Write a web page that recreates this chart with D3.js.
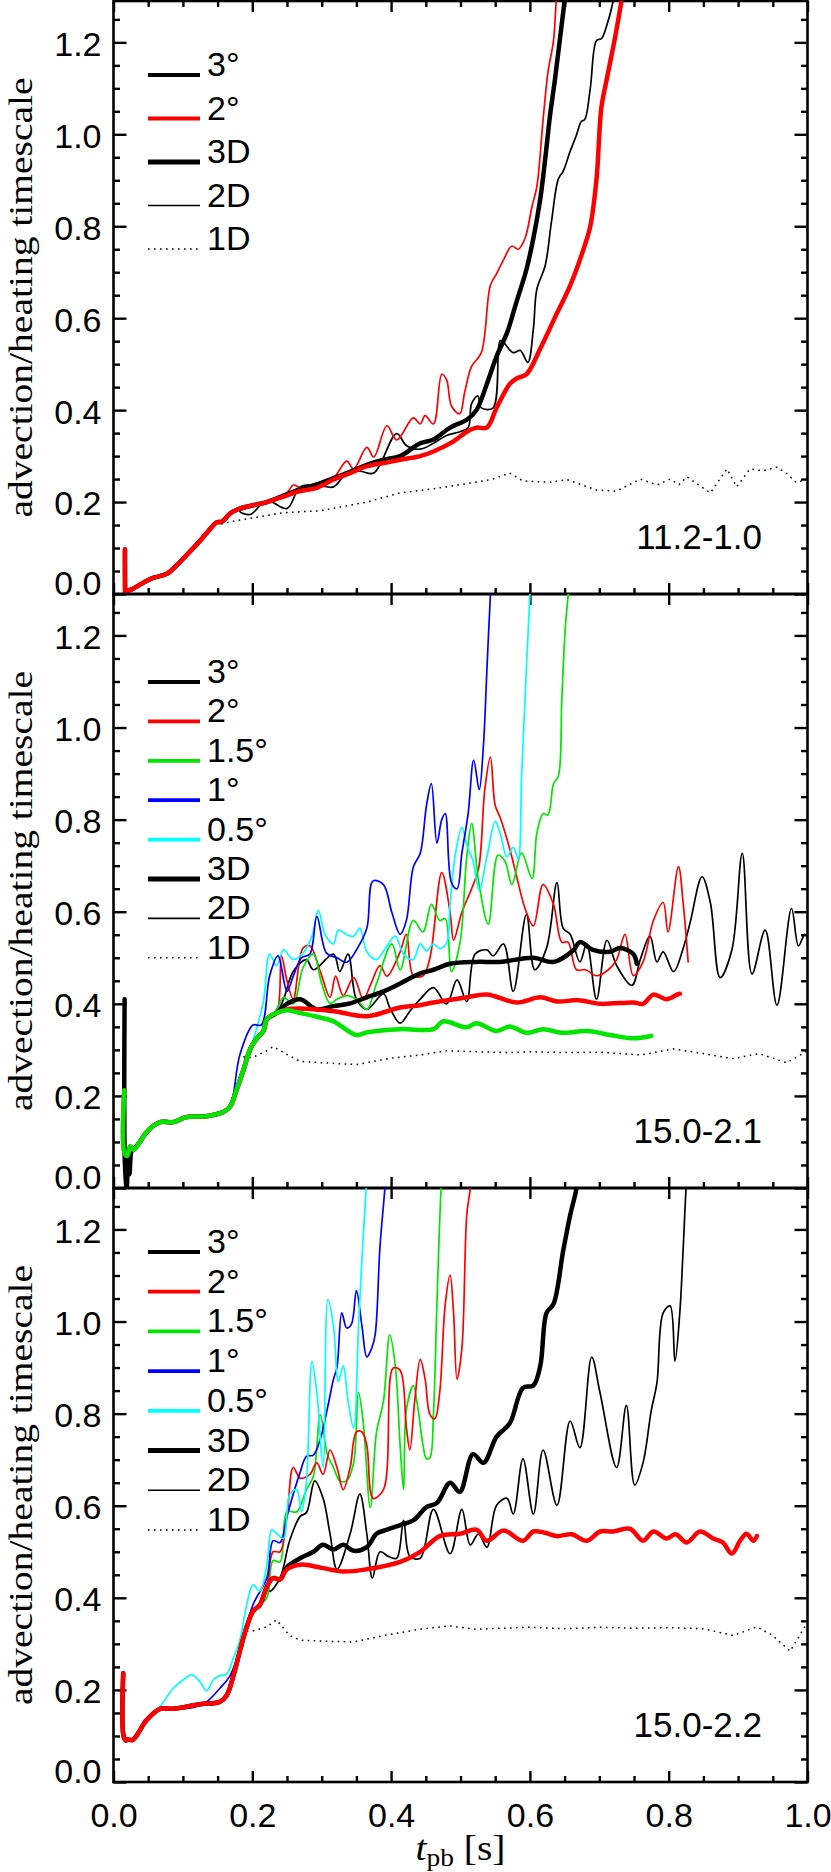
<!DOCTYPE html>
<html><head><meta charset="utf-8">
<script src="https://cdn.jsdelivr.net/npm/d3@7"></script>
<style>body{margin:0;background:#fff}</style>
</head><body>
<svg id="chart" width="831" height="1872"></svg>
<script>
// ---------------- DATA ----------------
const xTickValues = [0, 0.2, 0.4, 0.6, 0.8, 1.0];
const yTickValues = [0, 0.2, 0.4, 0.6, 0.8, 1.0, 1.2];
const panelLabels = ["11.2-1.0", "15.0-2.1", "15.0-2.2"];
const resLabels = {r3: "3°", r2: "2°", r15: "1.5°", r1: "1°", r05: "0.5°"};
const dimLabels = {d3: "3D", d2: "2D", d1: "1D"};
const legend1 = ["r3", "r2", "d3", "d2", "d1"];
const legend23 = ["r3", "r2", "r15", "r1", "r05", "d3", "d2", "d1"];

// Panel 1 (11.2-1.0)
const p1Common = [[0.017,0.005],[0.026,0.01],[0.048,0.029],[0.057,0.035],[0.077,0.044],[0.096,0.07],[0.12,0.108],[0.134,0.132],[0.149,0.156],[0.156,0.157],[0.168,0.175],[0.182,0.186],[0.201,0.193],[0.221,0.2]];
const p1Spike = [[0.0165,0.097],[0.0168,0.0]];
const p1_3D_r2 = [[0.245,0.212],[0.269,0.224],[0.293,0.231],[0.317,0.249],[0.341,0.263],[0.365,0.278],[0.389,0.285],[0.413,0.292],[0.442,0.3],[0.461,0.31],[0.49,0.332],[0.509,0.353],[0.523,0.362],[0.538,0.362],[0.552,0.405],[0.571,0.457],[0.581,0.469],[0.595,0.478],[0.615,0.534],[0.639,0.611],[0.658,0.671],[0.677,0.749],[0.687,0.8],[0.696,0.903],[0.703,1.058],[0.711,1.122],[0.723,1.213],[0.732,1.29],[0.74,1.36]];
const p1_3D_r3 = [[0.245,0.214],[0.269,0.228],[0.293,0.238],[0.317,0.252],[0.341,0.266],[0.365,0.281],[0.389,0.292],[0.413,0.3],[0.442,0.328],[0.461,0.336],[0.485,0.362],[0.509,0.379],[0.523,0.4],[0.538,0.457],[0.552,0.517],[0.567,0.568],[0.581,0.637],[0.595,0.706],[0.605,0.774],[0.615,0.86],[0.622,0.946],[0.629,1.041],[0.636,1.118],[0.643,1.204],[0.65,1.29],[0.655,1.35]];
const p1_2D_r2 = [[0.235,0.21],[0.25,0.22],[0.259,0.237],[0.269,0.232],[0.293,0.242],[0.317,0.253],[0.336,0.289],[0.346,0.272],[0.365,0.319],[0.375,0.298],[0.394,0.366],[0.408,0.335],[0.432,0.383],[0.442,0.37],[0.449,0.388],[0.461,0.37],[0.473,0.478],[0.48,0.466],[0.487,0.409],[0.499,0.392],[0.506,0.439],[0.516,0.495],[0.53,0.525],[0.543,0.671],[0.552,0.697],[0.562,0.727],[0.574,0.757],[0.583,0.75],[0.593,0.774],[0.603,0.843],[0.61,0.886],[0.619,1.032],[0.626,1.135],[0.634,1.204],[0.638,1.29],[0.642,1.35]];
const p1_2D_r3 = [[0.182,0.18],[0.197,0.173],[0.221,0.203],[0.25,0.186],[0.269,0.233],[0.293,0.237],[0.317,0.233],[0.336,0.263],[0.355,0.267],[0.375,0.263],[0.408,0.349],[0.422,0.323],[0.442,0.315],[0.461,0.328],[0.48,0.345],[0.499,0.353],[0.511,0.362],[0.516,0.414],[0.525,0.431],[0.53,0.405],[0.547,0.405],[0.557,0.551],[0.562,0.547],[0.576,0.525],[0.586,0.53],[0.597,0.504],[0.605,0.577],[0.61,0.663],[0.622,0.714],[0.631,0.809],[0.641,0.903],[0.648,0.92],[0.658,0.963],[0.667,0.998],[0.674,1.028],[0.679,1.032],[0.687,1.1],[0.696,1.204],[0.703,1.208],[0.711,1.238],[0.72,1.29],[0.725,1.34]];
const p1_1D = [[0.155,0.152],[0.168,0.157],[0.245,0.177],[0.298,0.181],[0.365,0.2],[0.413,0.22],[0.461,0.229],[0.509,0.24],[0.547,0.25],[0.571,0.263],[0.59,0.246],[0.629,0.243],[0.653,0.249],[0.696,0.226],[0.725,0.224],[0.759,0.25],[0.783,0.237],[0.802,0.25],[0.815,0.238],[0.826,0.255],[0.86,0.22],[0.884,0.272],[0.898,0.233],[0.917,0.272],[0.936,0.268],[0.956,0.276],[0.97,0.262],[0.984,0.242],[1.0,0.25]];

// Panel 2 (15.0-2.1)
const p2Common = [[0.0286,0.083],[0.038,0.1],[0.048,0.122],[0.067,0.143],[0.086,0.143],[0.105,0.154],[0.134,0.156],[0.158,0.165],[0.168,0.177],[0.177,0.212],[0.187,0.255],[0.197,0.302],[0.206,0.324],[0.216,0.341],[0.221,0.367],[0.235,0.38]];
const p2SpikeBlack = [[0.016,0.41],[0.0165,0.05],[0.019,0.0],[0.021,0.06],[0.023,0.03],[0.026,0.08]];
const p2SpikeGreen = [[0.0155,0.212],[0.016,0.075],[0.02,0.07],[0.024,0.09]];
const p2_3D_r3 = [[0.25,0.4],[0.269,0.41],[0.293,0.388],[0.317,0.395],[0.341,0.401],[0.365,0.414],[0.389,0.427],[0.413,0.444],[0.442,0.466],[0.461,0.474],[0.485,0.487],[0.523,0.491],[0.557,0.491],[0.605,0.5],[0.634,0.491],[0.663,0.517],[0.672,0.534],[0.691,0.517],[0.715,0.513],[0.73,0.521],[0.749,0.508],[0.754,0.487]];
const p2_3D_r15 = [[0.25,0.386],[0.269,0.38],[0.293,0.372],[0.317,0.362],[0.35,0.332],[0.365,0.338],[0.413,0.345],[0.461,0.345],[0.475,0.362],[0.509,0.349],[0.523,0.358],[0.552,0.341],[0.571,0.351],[0.595,0.337],[0.619,0.345],[0.646,0.337],[0.682,0.341],[0.72,0.331],[0.749,0.325],[0.775,0.33]];
const p2_3D_r2 = [[0.25,0.388],[0.269,0.39],[0.317,0.384],[0.365,0.373],[0.413,0.392],[0.442,0.397],[0.461,0.403],[0.509,0.414],[0.538,0.42],[0.581,0.403],[0.615,0.414],[0.639,0.405],[0.67,0.408],[0.701,0.4],[0.749,0.403],[0.763,0.4],[0.778,0.42],[0.797,0.41],[0.812,0.42],[0.816,0.422]];
const p2_2D_r3 = [[0.245,0.41],[0.259,0.47],[0.278,0.496],[0.288,0.474],[0.317,0.508],[0.326,0.47],[0.338,0.508],[0.35,0.41],[0.365,0.388],[0.389,0.422],[0.398,0.392],[0.413,0.358],[0.427,0.384],[0.442,0.41],[0.461,0.435],[0.48,0.4],[0.495,0.452],[0.509,0.405],[0.521,0.508],[0.538,0.517],[0.547,0.504],[0.562,0.53],[0.576,0.427],[0.595,0.594],[0.607,0.474],[0.624,0.521],[0.639,0.663],[0.648,0.564],[0.658,0.551],[0.672,0.491],[0.682,0.53],[0.696,0.41],[0.711,0.538],[0.725,0.483],[0.747,0.44],[0.759,0.496],[0.773,0.547],[0.783,0.491],[0.792,0.513],[0.807,0.47],[0.821,0.521],[0.831,0.577],[0.848,0.676],[0.86,0.62],[0.874,0.457],[0.891,0.517],[0.906,0.727],[0.92,0.465],[0.939,0.56],[0.956,0.397],[0.977,0.607],[0.987,0.526],[0.996,0.551],[1.0,0.545]];
const p2_2D_r2 = [[0.242,0.504],[0.25,0.45],[0.259,0.41],[0.273,0.521],[0.283,0.526],[0.298,0.47],[0.312,0.414],[0.32,0.46],[0.331,0.418],[0.346,0.457],[0.36,0.41],[0.37,0.44],[0.384,0.483],[0.394,0.46],[0.413,0.513],[0.422,0.551],[0.432,0.461],[0.446,0.461],[0.456,0.5],[0.473,0.685],[0.485,0.599],[0.49,0.538],[0.502,0.599],[0.516,0.65],[0.526,0.693],[0.535,0.865],[0.543,0.936],[0.55,0.831],[0.557,0.805],[0.571,0.736],[0.581,0.676],[0.593,0.607],[0.605,0.569],[0.619,0.659],[0.634,0.616],[0.646,0.534],[0.655,0.534],[0.667,0.474],[0.68,0.474],[0.696,0.461],[0.713,0.474],[0.725,0.496],[0.737,0.551],[0.749,0.461],[0.763,0.491],[0.778,0.581],[0.792,0.62],[0.799,0.556],[0.814,0.698],[0.821,0.616],[0.828,0.491]];
const p2_2D_r1 = [[0.182,0.289],[0.201,0.354],[0.213,0.354],[0.225,0.461],[0.237,0.504],[0.25,0.427],[0.259,0.46],[0.271,0.5],[0.283,0.508],[0.293,0.59],[0.307,0.51],[0.322,0.5],[0.336,0.49],[0.35,0.517],[0.365,0.564],[0.374,0.667],[0.389,0.659],[0.401,0.599],[0.413,0.551],[0.422,0.581],[0.432,0.697],[0.442,0.727],[0.451,0.831],[0.458,0.878],[0.466,0.749],[0.473,0.8],[0.478,0.813],[0.487,0.663],[0.495,0.65],[0.502,0.727],[0.511,0.813],[0.519,0.929],[0.527,0.865],[0.533,0.96],[0.538,1.123],[0.543,1.286],[0.546,1.35]];
const p2_2D_r05 = [[0.182,0.24],[0.201,0.32],[0.216,0.405],[0.225,0.508],[0.235,0.483],[0.245,0.517],[0.259,0.496],[0.273,0.51],[0.286,0.547],[0.295,0.603],[0.305,0.55],[0.317,0.53],[0.324,0.56],[0.336,0.55],[0.346,0.547],[0.355,0.564],[0.365,0.513],[0.379,0.496],[0.394,0.526],[0.406,0.547],[0.418,0.508],[0.432,0.496],[0.442,0.53],[0.451,0.515],[0.461,0.53],[0.47,0.52],[0.48,0.532],[0.485,0.616],[0.492,0.719],[0.502,0.783],[0.509,0.745],[0.518,0.71],[0.527,0.646],[0.538,0.719],[0.55,0.796],[0.557,0.771],[0.567,0.719],[0.576,0.74],[0.583,0.715],[0.588,0.891],[0.593,1.063],[0.6,1.286],[0.603,1.35]];
const p2_2D_r15 = [[0.185,0.24],[0.201,0.307],[0.221,0.36],[0.235,0.388],[0.245,0.414],[0.259,0.4],[0.273,0.478],[0.288,0.508],[0.3,0.444],[0.312,0.401],[0.322,0.41],[0.336,0.418],[0.35,0.41],[0.365,0.388],[0.379,0.444],[0.401,0.53],[0.413,0.474],[0.432,0.581],[0.446,0.556],[0.458,0.616],[0.47,0.581],[0.478,0.585],[0.487,0.47],[0.499,0.53],[0.509,0.719],[0.516,0.792],[0.526,0.667],[0.54,0.573],[0.554,0.723],[0.564,0.71],[0.574,0.659],[0.588,0.728],[0.603,0.672],[0.61,0.77],[0.619,0.813],[0.626,0.81],[0.634,0.878],[0.641,0.895],[0.646,1.063],[0.651,1.217],[0.655,1.286],[0.658,1.35]];
const p2_1D = [[0.187,0.285],[0.2,0.283],[0.221,0.298],[0.23,0.307],[0.25,0.29],[0.269,0.275],[0.3,0.272],[0.35,0.268],[0.4,0.282],[0.442,0.289],[0.48,0.298],[0.52,0.296],[0.57,0.294],[0.6,0.296],[0.65,0.294],[0.7,0.295],[0.76,0.289],[0.807,0.302],[0.85,0.292],[0.893,0.281],[0.93,0.292],[0.97,0.272],[1.0,0.298]];

// Panel 3 (15.0-2.2)
const p3Common = [[0.02,0.092],[0.028,0.092],[0.048,0.135],[0.067,0.159],[0.086,0.159],[0.125,0.169],[0.153,0.174],[0.163,0.188],[0.173,0.232],[0.182,0.284],[0.192,0.337],[0.201,0.371],[0.211,0.385],[0.221,0.424],[0.23,0.443],[0.24,0.44]];
const p3Spike = [[0.014,0.236],[0.0145,0.1],[0.018,0.09]];
const p3_3D_r2 = [[0.25,0.462],[0.269,0.472],[0.3,0.465],[0.331,0.457],[0.365,0.462],[0.413,0.478],[0.442,0.5],[0.47,0.534],[0.499,0.539],[0.523,0.548],[0.538,0.524],[0.562,0.546],[0.59,0.524],[0.605,0.544],[0.62,0.542],[0.639,0.534],[0.66,0.538],[0.682,0.524],[0.701,0.544],[0.72,0.544],[0.744,0.55],[0.763,0.524],[0.778,0.544],[0.797,0.529],[0.81,0.538],[0.826,0.52],[0.845,0.544],[0.864,0.529],[0.878,0.52],[0.891,0.496],[0.903,0.524],[0.912,0.539],[0.922,0.524],[0.927,0.534]];
const p3_3D_r3 = [[0.25,0.467],[0.269,0.486],[0.288,0.5],[0.302,0.515],[0.317,0.505],[0.331,0.515],[0.346,0.502],[0.365,0.51],[0.379,0.539],[0.394,0.548],[0.413,0.558],[0.432,0.568],[0.451,0.597],[0.466,0.606],[0.485,0.65],[0.499,0.63],[0.518,0.712],[0.533,0.693],[0.552,0.75],[0.571,0.779],[0.59,0.856],[0.605,0.861],[0.615,0.904],[0.624,1.019],[0.634,1.038],[0.648,1.154],[0.658,1.231],[0.667,1.288],[0.672,1.35]];
const p3_2D_r3 = [[0.225,0.414],[0.24,0.443],[0.254,0.525],[0.269,0.577],[0.278,0.585],[0.29,0.654],[0.302,0.616],[0.312,0.539],[0.322,0.462],[0.341,0.539],[0.355,0.625],[0.365,0.539],[0.373,0.443],[0.384,0.5],[0.396,0.49],[0.408,0.486],[0.418,0.568],[0.427,0.49],[0.442,0.486],[0.461,0.592],[0.485,0.496],[0.502,0.592],[0.514,0.515],[0.526,0.539],[0.538,0.51],[0.552,0.601],[0.567,0.616],[0.576,0.582],[0.59,0.702],[0.605,0.582],[0.619,0.721],[0.639,0.601],[0.658,0.784],[0.672,0.726],[0.689,0.923],[0.701,0.846],[0.725,0.683],[0.739,0.818],[0.751,0.645],[0.763,0.693],[0.775,0.808],[0.783,0.866],[0.792,1.019],[0.802,1.034],[0.809,0.914],[0.816,1.019],[0.821,1.163],[0.825,1.288],[0.828,1.35]];
const p3_2D_r2 = [[0.23,0.5],[0.24,0.5],[0.25,0.577],[0.259,0.683],[0.269,0.66],[0.283,0.668],[0.293,0.693],[0.302,0.668],[0.312,0.721],[0.322,0.683],[0.331,0.635],[0.341,0.683],[0.35,0.76],[0.358,0.76],[0.365,0.731],[0.374,0.616],[0.389,0.635],[0.403,0.899],[0.413,0.894],[0.422,0.77],[0.427,0.721],[0.434,0.827],[0.442,0.918],[0.449,0.875],[0.456,0.798],[0.463,0.789],[0.47,0.846],[0.478,1.038],[0.485,1.101],[0.49,1.019],[0.495,0.875],[0.502,0.942],[0.509,1.231],[0.514,1.288],[0.517,1.35]];
const p3_2D_r15 = [[0.221,0.4],[0.23,0.481],[0.24,0.478],[0.25,0.587],[0.264,0.587],[0.278,0.635],[0.288,0.664],[0.298,0.798],[0.308,0.712],[0.317,0.683],[0.326,0.654],[0.336,0.654],[0.346,0.693],[0.353,0.846],[0.36,0.779],[0.37,0.596],[0.379,0.76],[0.389,0.827],[0.398,0.971],[0.406,0.904],[0.413,0.731],[0.418,0.635],[0.422,0.808],[0.432,0.861],[0.439,0.808],[0.446,0.731],[0.451,0.702],[0.456,0.705],[0.461,0.798],[0.466,1.038],[0.472,1.288],[0.475,1.35]];
const p3_2D_r05 = [[0.067,0.164],[0.086,0.203],[0.105,0.227],[0.113,0.233],[0.125,0.217],[0.134,0.198],[0.144,0.222],[0.153,0.231],[0.163,0.235],[0.173,0.27],[0.182,0.308],[0.192,0.385],[0.201,0.428],[0.211,0.415],[0.221,0.472],[0.228,0.548],[0.235,0.54],[0.245,0.529],[0.254,0.625],[0.264,0.635],[0.271,0.587],[0.278,0.654],[0.286,0.913],[0.293,0.846],[0.302,0.683],[0.309,1.048],[0.317,0.99],[0.324,0.87],[0.331,0.904],[0.338,0.827],[0.346,0.769],[0.353,0.99],[0.358,1.135],[0.364,1.288],[0.367,1.35]];
const p3_2D_r1 = [[0.115,0.162],[0.134,0.174],[0.153,0.203],[0.168,0.231],[0.182,0.289],[0.201,0.385],[0.221,0.443],[0.23,0.524],[0.24,0.52],[0.25,0.577],[0.259,0.625],[0.269,0.673],[0.278,0.707],[0.288,0.71],[0.298,0.745],[0.309,0.817],[0.317,0.875],[0.322,0.9],[0.329,1.019],[0.336,0.986],[0.343,0.995],[0.35,1.067],[0.358,0.99],[0.365,0.923],[0.372,0.942],[0.377,0.971],[0.384,1.163],[0.391,1.288],[0.394,1.35]];
const p3_1D = [[0.192,0.328],[0.201,0.328],[0.221,0.337],[0.235,0.352],[0.254,0.318],[0.269,0.308],[0.3,0.306],[0.346,0.304],[0.389,0.318],[0.442,0.332],[0.485,0.339],[0.52,0.332],[0.56,0.334],[0.6,0.336],[0.65,0.333],[0.7,0.336],[0.75,0.334],[0.8,0.335],[0.85,0.333],[0.893,0.318],[0.927,0.337],[0.95,0.318],[0.975,0.284],[1.0,0.347]];

const upTo = (arr, t) => arr.filter(d => d[0] <= t);

// series per panel, in drawing order: [resolution, dimension, points]
const panelSeries = [
  [
    ["r3","d1", p1_1D],
    ["r3","d2", p1Common.concat(p1_2D_r3)],
    ["r2","d2", p1Common.concat(p1_2D_r2)],
    ["r3","d3", p1Spike.concat(p1Common, p1_3D_r3)],
    ["r2","d3", p1Spike.concat(p1Common, p1_3D_r2)]
  ],
  [
    ["r3","d1", p2_1D],
    ["r3","d2", p2SpikeBlack.concat(upTo(p2Common,0.235), p2_2D_r3)],
    ["r2","d2", p2SpikeGreen.concat(upTo(p2Common,0.235), p2_2D_r2)],
    ["r15","d2", p2SpikeGreen.concat(upTo(p2Common,0.168), p2_2D_r15)],
    ["r05","d2", p2SpikeGreen.concat(upTo(p2Common,0.168), p2_2D_r05)],
    ["r1","d2", p2SpikeGreen.concat(upTo(p2Common,0.168), p2_2D_r1)],
    ["r3","d3", p2SpikeBlack.concat(p2Common, p2_3D_r3)],
    ["r2","d3", p2SpikeGreen.concat(p2Common, p2_3D_r2)],
    ["r15","d3", p2SpikeGreen.concat(p2Common, p2_3D_r15)]
  ],
  [
    ["r3","d1", p3_1D],
    ["r3","d2", p3Spike.concat(upTo(p3Common,0.221), p3_2D_r3)],
    ["r15","d2", p3Spike.concat(upTo(p3Common,0.211), p3_2D_r15)],
    ["r2","d2", p3Spike.concat(upTo(p3Common,0.221), p3_2D_r2)],
    ["r1","d2", p3Spike.concat(upTo(p3Common,0.086), p3_2D_r1)],
    ["r05","d2", p3Spike.concat(upTo(p3Common,0.048), p3_2D_r05)],
    ["r3","d3", p3Spike.concat(p3Common, p3_3D_r3)],
    ["r2","d3", p3Spike.concat(p3Common, p3_3D_r2)]
  ]
];

// ---------------- STYLE / LAYOUT ----------------
const colors = {r3: "#000000", r2: "#ff0000", r15: "#00e600", r1: "#0000ff", r05: "#00ffff"};
const widths = {d3: 4.5, d2: 1.7, d1: 1.5};
const legendLayout = [{top: 75, step: 43.5}, {top: 682, step: 39.4}, {top: 1252, step: 39.7}];
const panelBox = [{top: 1, bottom: 594}, {top: 594, bottom: 1188}, {top: 1188, bottom: 1782}];
const X0 = 113.5, X1 = 807.5;
const SANS = "'Liberation Sans', Arial, Helvetica, sans-serif";
const SERIF = "'Liberation Serif', 'Times New Roman', Times, serif";

const svg = d3.select("#chart");
svg.append("rect").attr("width", 831).attr("height", 1872).attr("fill", "#fff");

const x = d3.scaleLinear().domain([0, 1]).range([X0, X1]);
const xMinor = d3.range(0, 1.0001, 0.05).filter(v => Math.abs(v*5 - Math.round(v*5)) > 1e-6);
const yMinor = d3.range(0, 1.2501, 0.05).filter(v => Math.abs(v*5 - Math.round(v*5)) > 1e-6);

function styleAxis(g) {
  g.select(".domain").remove();
  g.selectAll(".tick line").attr("stroke", "#000").attr("stroke-width", 2.4);
  g.selectAll(".tick text").attr("fill", "#000").style("font-family", SANS).style("font-size", "34px");
}

panelBox.forEach((box, pi) => {
  const y = d3.scaleLinear().domain([0, 1.29]).range([box.bottom, box.top]);
  const g = svg.append("g");

  const clipId = "clip" + pi;
  svg.append("clipPath").attr("id", clipId).append("rect")
    .attr("x", X0).attr("y", box.top).attr("width", X1 - X0).attr("height", box.bottom - box.top);

  const gl = g.append("g").attr("transform", `translate(${X0},0)`)
    .call(d3.axisLeft(y).tickValues(yTickValues).tickSize(-13).tickSizeOuter(0).tickPadding(12).tickFormat(d3.format(".1f")));
  styleAxis(gl);
  gl.selectAll(".tick text").attr("dy", d => d === 0 ? "0.0em" : "0.38em");
  const glm = g.append("g").attr("transform", `translate(${X0},0)`)
    .call(d3.axisLeft(y).tickValues(yMinor).tickSize(-6.5).tickSizeOuter(0).tickFormat(""));
  styleAxis(glm);
  const gr = g.append("g").attr("transform", `translate(${X1},0)`)
    .call(d3.axisRight(y).tickValues(yTickValues).tickSize(-13).tickSizeOuter(0).tickFormat(""));
  styleAxis(gr);
  const grm = g.append("g").attr("transform", `translate(${X1},0)`)
    .call(d3.axisRight(y).tickValues(yMinor).tickSize(-6.5).tickSizeOuter(0).tickFormat(""));
  styleAxis(grm);
  const gb = g.append("g").attr("transform", `translate(0,${box.bottom})`)
    .call(d3.axisBottom(x).tickValues(xTickValues).tickSize(-11).tickSizeOuter(0).tickPadding(21)
      .tickFormat(pi === 2 ? d3.format(".1f") : ""));
  styleAxis(gb);
  const gbm = g.append("g").attr("transform", `translate(0,${box.bottom})`)
    .call(d3.axisBottom(x).tickValues(xMinor).tickSize(-6).tickSizeOuter(0).tickFormat(""));
  styleAxis(gbm);
  const gt = g.append("g").attr("transform", `translate(0,${box.top})`)
    .call(d3.axisTop(x).tickValues(xTickValues).tickSize(-11).tickSizeOuter(0).tickFormat(""));
  styleAxis(gt);
  if (pi === 0) {
    const gtm = g.append("g").attr("transform", `translate(0,${box.top})`)
      .call(d3.axisTop(x).tickValues(xMinor).tickSize(-6).tickSizeOuter(0).tickFormat(""));
    styleAxis(gtm);
  }

  g.append("rect").attr("x", X0).attr("y", box.top).attr("width", X1 - X0).attr("height", box.bottom - box.top)
    .attr("fill", "none").attr("stroke", "#000").attr("stroke-width", 2.6);

  const smooth = d3.line().x(d => x(d[0])).y(d => y(d[1])).curve(d3.curveCatmullRom.alpha(0.5));
  const straight = d3.line().x(d => x(d[0])).y(d => y(d[1]));
  const lg = g.append("g").attr("clip-path", `url(#${clipId})`);
  panelSeries[pi].forEach(([res, dim, pts]) => {
    lg.append("path").attr("d", dim === "d1" ? straight(pts) : smooth(pts)).attr("fill", "none")
      .attr("stroke", colors[res]).attr("stroke-width", widths[dim])
      .attr("stroke-linejoin", "round").attr("stroke-linecap", dim === "d1" ? "butt" : "round")
      .attr("stroke-dasharray", dim === "d1" ? "1.6 4.4" : null);
  });

  const items = pi === 0 ? legend1 : legend23;
  const L = legendLayout[pi];
  items.forEach((key, i) => {
    const yy = L.top + i * L.step;
    const isRes = key[0] === "r";
    const seg = g.append("line").attr("x1", 148).attr("x2", 200).attr("y1", yy).attr("y2", yy)
      .attr("stroke", isRes ? colors[key] : "#000");
    if (isRes) seg.attr("stroke-width", 3.8);
    else if (key === "d3") seg.attr("stroke-width", 4.8);
    else if (key === "d2") seg.attr("stroke-width", 1.6);
    else seg.attr("stroke-width", 1.5).attr("stroke-dasharray", "1.6 4.4");
    g.append("text").attr("x", 207).attr("y", yy + 1)
      .style("font-family", SANS).style("font-size", "34px")
      .text(isRes ? resLabels[key] : dimLabels[key]);
  });

  g.append("text").attr("x", 762).attr("y", box.top + 549 - (pi === 0 ? 1 : 0)).attr("text-anchor", "end")
    .style("font-family", SANS).style("font-size", "35px").text(panelLabels[pi]);

  g.append("text").attr("transform", `translate(32,${(box.top + box.bottom) / 2}) rotate(-90)`)
    .attr("text-anchor", "middle").style("font-family", SERIF).style("font-size", "34px")
    .attr("textLength", 440).attr("lengthAdjust", "spacingAndGlyphs")
    .text("advection/heating timescale");
});

const xt = svg.append("text").attr("x", (X0 + X1) / 2).attr("y", 1860).attr("text-anchor", "middle")
  .style("font-family", SERIF).style("font-size", "36px")
  .attr("textLength", 90).attr("lengthAdjust", "spacingAndGlyphs");
xt.append("tspan").style("font-style", "italic").text("t");
xt.append("tspan").attr("dy", 6).style("font-size", "25px").text("pb");
xt.append("tspan").attr("dy", -6).text(" [s]");
</script>
</body></html>
